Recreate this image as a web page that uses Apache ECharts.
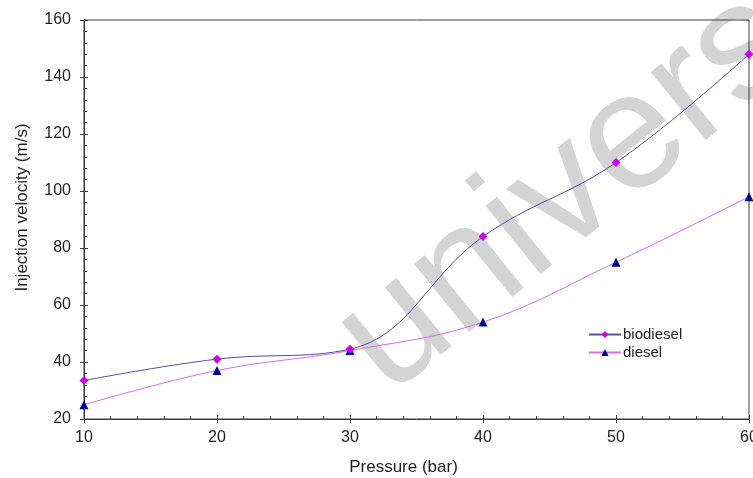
<!DOCTYPE html>
<html>
<head>
<meta charset="utf-8">
<script src="https://cdn.jsdelivr.net/npm/echarts@6/dist/echarts.min.js"></script>
<style>
    html, body {margin: 0; padding: 0; background: #fff;}
    #chart {width: 753px; height: 478px;}
</style>
</head>
<body>
<div id="chart"></div>
<script>
// 数据
const pressure = [10, 20, 30, 40, 50, 60];
const biodiesel = [33.5, 41, 44.5, 84, 110, 148];
const diesel = [25, 37, 44, 54, 75, 98];

const font = '"Liberation Sans", Arial, sans-serif';
const axisColor = '#3a3a3a';
const textColor = '#1e1e1e';

const chart = echarts.init(document.getElementById('chart'), null, {renderer: 'canvas'});

const toPairs = (xs, ys) => xs.map((x, i) => [x, ys[i]]);

const option = {
    animation: false,
    backgroundColor: '#fff',
    textStyle: {fontFamily: font},
    grid: {
        left: 84, top: 20, right: 4, bottom: 59,
        outerBoundsMode: 'none',
        show: true, borderColor: axisColor, borderWidth: 1
    },
    //水印
    graphic: [{
        type: 'text',
        z: -10,
        x: 412, y: 426,
        rotation: 39 * Math.PI / 180,
        style: {
            text: 'university',
            font: '166px "Liberation Sans", Arial, sans-serif',
            fill: '#d4d4d4',
            textAlign: 'left',
            textVerticalAlign: 'bottom'
        }
    }],
    legend: {
        orient: 'vertical',
        left: 583, top: 322,
        itemWidth: 32, itemHeight: 9, itemGap: 3,
        textStyle: {fontSize: 15, color: textColor, fontFamily: font, padding: [0, 0, 0, -3]},
        data: ['biodiesel', 'diesel']
    },
    xAxis: [{
        type: 'value',
        min: 10, max: 60, interval: 10,
        name: 'Pressure (bar)',
        nameLocation: 'middle', nameGap: 40,
        nameTextStyle: {fontSize: 17, color: textColor, padding: [0, 26, 0, 0]},
        axisLine: {show: true, lineStyle: {color: axisColor}},
        axisTick: {show: true, length: 4, lineStyle: {color: axisColor}},
        axisLabel: {fontSize: 16, color: textColor, margin: 11, showMaxLabel: true},
        splitLine: {show: false}
    }, {
        type: 'value',
        min: 10, max: 60, interval: 10,
        position: 'bottom',
        axisLine: {show: false},
        axisTick: {show: true, inside: true, length: 4, lineStyle: {color: axisColor}},
        minorTick: {show: true, splitNumber: 5, length: 3, lineStyle: {color: axisColor}},
        axisLabel: {show: false},
        splitLine: {show: false}
    }],
    yAxis: [{
        type: 'value',
        min: 20, max: 160, interval: 20,
        name: 'Injection velocity (m/s)',
        nameLocation: 'middle', nameGap: 53,
        nameTextStyle: {fontSize: 17, color: textColor, padding: [0, 0, 0, 24]},
        axisLine: {show: true, lineStyle: {color: axisColor}},
        axisTick: {show: true, length: 4, lineStyle: {color: axisColor}},
        axisLabel: {fontSize: 16, color: textColor, margin: 13},
        splitLine: {show: false}
    }, {
        type: 'value',
        min: 20, max: 160, interval: 20,
        position: 'left',
        axisLine: {show: false},
        axisTick: {show: true, inside: true, length: 4, lineStyle: {color: axisColor}},
        minorTick: {show: true, splitNumber: 5, length: 3, lineStyle: {color: axisColor}},
        axisLabel: {show: false},
        splitLine: {show: false}
    }],
    series: [{
        name: 'biodiesel',
        type: 'line',
        smooth: 0.4,
        data: toPairs(pressure, biodiesel),
        symbol: 'diamond',
        symbolSize: 9,
        itemStyle: {color: '#cc00ee'},
        lineStyle: {color: '#50509a', width: 1},
        z: 3
    }, {
        name: 'diesel',
        type: 'line',
        smooth: 0.4,
        data: toPairs(pressure, diesel),
        symbol: 'triangle',
        symbolSize: 9,
        itemStyle: {color: '#000088'},
        lineStyle: {color: '#d070e8', width: 1},
        z: 2
    }]
};

chart.setOption(option);
</script>
</body>
</html>
